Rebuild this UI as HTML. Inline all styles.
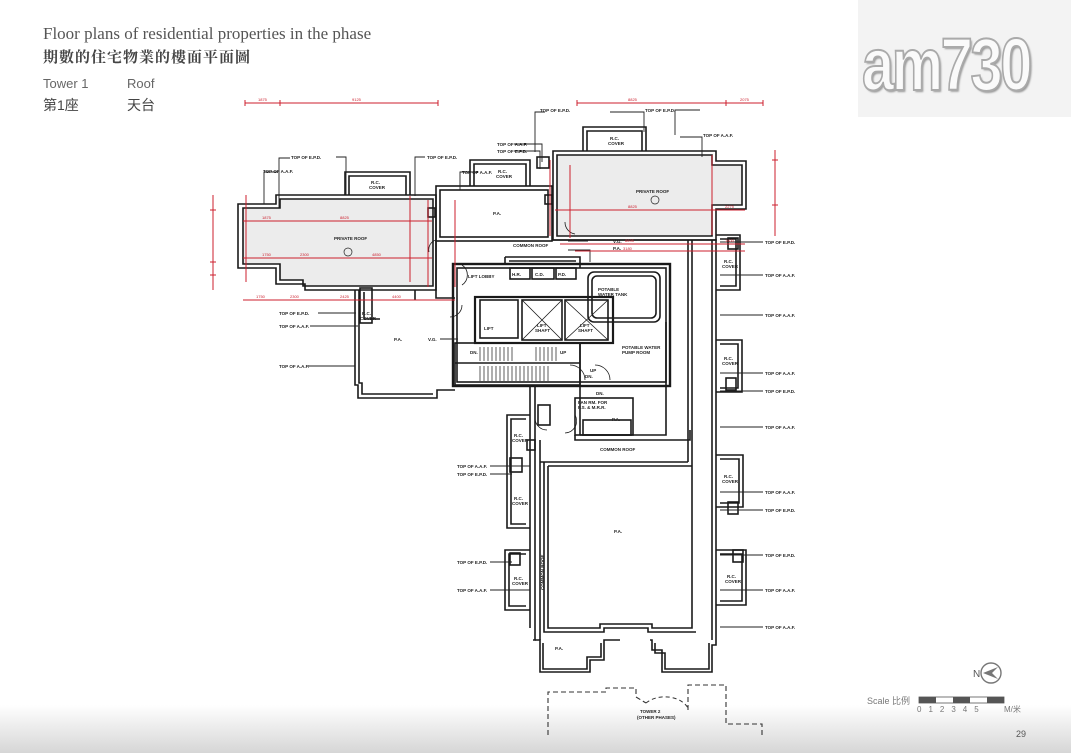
<!DOCTYPE html>
<html><head><meta charset="utf-8"><style>
html,body{margin:0;padding:0}
body{width:1071px;height:753px;position:relative;overflow:hidden;background:#fff;font-family:"Liberation Sans","Noto Sans CJK TC",sans-serif}
.t1{position:absolute;left:43px;top:24px;font-family:"Liberation Serif",serif;font-size:17px;color:#555}
.t2{position:absolute;left:43px;top:46px;font-family:"Liberation Serif","Noto Serif CJK SC",serif;font-size:15px;font-weight:bold;color:#444;letter-spacing:1px}
.s{position:absolute;font-size:13px;color:#666}
.logo{position:absolute;left:858px;top:0;width:213px;height:117px;background:#f3f3f3}
.logo span{position:absolute;left:4px;top:22px;font-size:74px;font-weight:bold;font-family:"Liberation Sans Narrow","Liberation Sans",sans-serif;color:#fafafa;letter-spacing:-3px;transform:scaleX(0.78);transform-origin:left;-webkit-text-stroke:2px #aaa;text-shadow:2px 2px 2px #999}
.grad{position:absolute;left:0;top:705px;width:1071px;height:48px;background:linear-gradient(#fff,#d6d6d6)}
</style></head><body>
<div class="grad"></div>
<div class="t1">Floor plans of residential properties in the phase</div>
<div class="t2">期數的住宅物業的樓面平面圖</div>
<div class="s" style="left:43px;top:76px">Tower 1</div>
<div class="s" style="left:127px;top:76px">Roof</div>
<div class="s" style="left:43px;top:95px;font-size:14px;color:#444">第1座</div>
<div class="s" style="left:127px;top:95px;font-size:14px;color:#444">天台</div>
<div class="logo"><span>am730</span></div>
<svg width="1071" height="753" style="position:absolute;left:0;top:0" font-family="Liberation Sans, sans-serif" font-weight="bold">
<g fill="#ececec" stroke="none">
<polygon points="243,208 280,208 280,199 433,199 433,286 303,286 303,280 280,280 280,264 243,264"/>
<polygon points="557,155 712,155 712,165 742,165 742,205 712,205 712,236 557,236"/>
</g>
<g fill="none" stroke="#1a1a1a" stroke-width="1.6">
<polygon points="238,204 276,204 276,195 436,195 436,290 305,290 305,284 276,284 276,268 238,268"/>
<polygon points="243,208 280,208 280,199 433,199 433,286 303,286 303,280 280,280 280,264 243,264"/>
<polyline points="345,195 345,172 410,172 410,195"/><polyline points="349,195 349,176 406,176 406,195"/>
<rect x="436" y="186" width="116" height="55"/><rect x="440" y="190" width="108" height="47"/>
<polyline points="470,186 470,160 530,160 530,186"/><polyline points="474,186 474,164 526,164 526,186"/>
<rect x="537" y="157" width="12" height="11"/>
<polygon points="553,151 716,151 716,161 746,161 746,209 716,209 716,240 553,240"/>
<polygon points="557,155 712,155 712,165 742,165 742,205 712,205 712,236 557,236"/>
<polyline points="583,151 583,127 646,127 646,151"/><polyline points="587,151 587,131 642,131 642,151"/>
<rect x="545" y="195" width="7" height="9"/><rect x="428" y="208" width="7" height="9"/>
<polyline points="436,241 436,298 455,298"/>
<polyline points="552,240 716,240 716,640"/>
<polyline points="712,240 712,640"/>
<polyline points="692,240 692,466"/><polyline points="688,240 688,462"/>
<polyline points="355,290 355,385 358,385 358,398 437,398 437,390 455,390"/>
<polyline points="359,290 359,383 362,383 362,394 433,394"/>
<polyline points="415,290 415,300"/>
<rect x="360" y="288" width="12" height="35"/><polyline points="364,292 364,319 380,319"/>
<rect x="453" y="264" width="217" height="122" stroke-width="2.4"/>
<rect x="457" y="268" width="209" height="114"/>
<polyline points="505,257 505,264"/><polyline points="505,257 580,257 580,268"/><polyline points="509,261 576,261"/>
<rect x="510" y="268" width="20" height="11"/><rect x="532" y="268" width="22" height="11"/><rect x="556" y="268" width="20" height="11"/>
<rect x="588" y="272" width="72" height="50" rx="6"/><rect x="592" y="276" width="64" height="42" rx="5"/>
<rect x="475" y="297" width="138" height="46" stroke-width="2.2"/>
<rect x="480" y="300" width="38" height="38"/><rect x="522" y="300" width="40" height="40"/><rect x="565" y="300" width="43" height="40"/>
<path d="M522 300L562 340M562 300L522 340M565 300L608 340M608 300L565 340" stroke-width="0.8"/>
<rect x="455" y="343" width="125" height="42"/><line x1="455" y1="363" x2="580" y2="363"/>
<path d="M480 347v14M484 347v14M488 347v14M492 347v14M496 347v14M500 347v14M504 347v14M508 347v14M512 347v14M536 347v14M540 347v14M544 347v14M548 347v14M552 347v14M556 347v14M480 366v15M484 366v15M488 366v15M492 366v15M496 366v15M500 366v15M504 366v15M508 366v15M512 366v15M516 366v15M520 366v15M524 366v15M528 366v15M532 366v15M536 366v15M540 366v15M544 366v15M548 366v15" stroke-width="0.7"/>
<polyline points="580,343 580,435"/><polyline points="666,322 666,435 580,435"/>
<rect x="575" y="398" width="58" height="37"/><rect x="583" y="420" width="48" height="15"/>
<polyline points="575,435 575,440 690,440 690,430"/>
<path d="M570 365a15 15 0 0 1 15 15M595 365a15 15 0 0 1 15 15M547 430a12 12 0 0 1 -12 -12" stroke-width="0.8"/>
<path d="M575 415a12 12 0 0 1 -10 18" stroke-width="0.8"/>
<path d="M462 265a12 12 0 0 1 0 20M429 252a10 10 0 0 1 7 -12M575 234a12 12 0 0 1 -10 -12M462 305a12 12 0 0 1 -12 12" stroke-width="0.8"/>
<rect x="538" y="405" width="12" height="20"/><rect x="527" y="440" width="8" height="10"/>
<polyline points="535,386 535,640 533,640"/><polyline points="530,386 530,628"/>
<polyline points="540,440 540,640"/>
<polyline points="548,466 692,466"/><polyline points="540,462 688,462"/>
<polyline points="548,466 548,628 600,628 600,624 652,624 652,628 692,628 692,466"/>
<polyline points="544,462 544,632 604,632 604,628 648,628 648,632 696,632"/>
<polyline points="535,640 540,640 540,672 590,672 590,660 604,660 604,640 620,640"/>
<polyline points="543,643 543,669 587,669 587,657 601,657 601,643"/>
<polyline points="650,640 652,640 652,650 662,650 662,672 712,672 712,645 716,645 716,640"/>
<polyline points="655,643 655,653 665,653 665,669 709,669 709,643"/>
<polyline points="530,415 507,415 507,528 530,528"/><polyline points="526,419 511,419 511,524 526,524"/>
<rect x="510" y="458" width="12" height="14"/>
<polyline points="530,550 505,550 505,610 530,610"/><polyline points="526,554 509,554 509,606 526,606"/>
<rect x="510" y="553" width="10" height="12"/>
<polyline points="716,235 740,235 740,290 716,290"/><polyline points="720,239 736,239 736,286 720,286"/><rect x="728" y="238" width="10" height="11"/>
<polyline points="716,340 742,340 742,392 716,392"/><polyline points="720,344 738,344 738,388 720,388"/><rect x="726" y="378" width="10" height="12"/>
<polyline points="716,455 743,455 743,507 716,507"/><polyline points="720,459 739,459 739,503 720,503"/><rect x="728" y="502" width="10" height="12"/>
<polyline points="716,550 746,550 746,605 716,605"/><polyline points="720,554 742,554 742,601 720,601"/><rect x="733" y="550" width="10" height="12"/>
</g>
<polyline points="548,735 548,692 606,692 606,688 636,688 636,697 646,703" fill="none" stroke="#333" stroke-width="1.1" stroke-dasharray="5,3"/>
<path d="M646 703a25 18 0 0 1 42 5" fill="none" stroke="#333" stroke-dasharray="4,3"/>
<polyline points="688,710 688,685 726,685 726,724 762,724 762,735" fill="none" stroke="#333" stroke-width="1.1" stroke-dasharray="5,3"/>
<g stroke="#222" stroke-width="0.9" fill="none">
<path d="M290 158h-11v50M336 157h10v38M425 157h-10v39M278 172h-14v32"/>
<path d="M514 144h28v18M514 151h26v18M478 172h-18v18M700 110h-25v25M545 112h-10v40"/>
<path d="M318 313h38M310 326h48M308 366h47M440 339h18M568 250h22v12M568 241h20"/>
<path d="M610 112h34v20M680 137h22v20"/>
<path d="M720 242h43M720 275h43M720 315h43M720 373h43M720 391h43M720 427h43M720 492h43M720 510h43M720 555h43M720 590h43M720 627h43"/>
<path d="M490 466h40M490 474h22M490 562h22M490 590h40"/>
</g>
<g font-size="4.5" fill="#222">
<text x="263" y="173">TOP OF A.A.F.</text><text x="291" y="159">TOP OF E.P.D.</text><text x="427" y="159">TOP OF E.P.D.</text>
<text x="497" y="146">TOP OF A.A.F.</text><text x="497" y="153">TOP OF E.P.D.</text><text x="462" y="174">TOP OF A.A.F.</text>
<text x="540" y="112">TOP OF E.P.D.</text><text x="645" y="112">TOP OF E.P.D.</text><text x="703" y="137">TOP OF A.A.F.</text>
<text x="279" y="315">TOP OF E.P.D.</text><text x="279" y="328">TOP OF A.A.F.</text><text x="279" y="368">TOP OF A.A.F.</text>
<text x="765" y="244">TOP OF E.P.D.</text><text x="765" y="277">TOP OF A.A.F.</text><text x="765" y="317">TOP OF A.A.F.</text>
<text x="765" y="375">TOP OF A.A.F.</text><text x="765" y="393">TOP OF E.P.D.</text><text x="765" y="429">TOP OF A.A.F.</text>
<text x="765" y="494">TOP OF A.A.F.</text><text x="765" y="512">TOP OF E.P.D.</text><text x="765" y="557">TOP OF E.P.D.</text>
<text x="765" y="592">TOP OF A.A.F.</text><text x="765" y="629">TOP OF A.A.F.</text>
<text x="457" y="468">TOP OF A.A.F.</text><text x="457" y="476">TOP OF E.P.D.</text><text x="457" y="564">TOP OF E.P.D.</text><text x="457" y="592">TOP OF A.A.F.</text>
<text x="371" y="184">R.C.</text><text x="369" y="189">COVER</text><text x="498" y="173">R.C.</text><text x="496" y="178">COVER</text>
<text x="610" y="140">R.C.</text><text x="608" y="145">COVER</text>
<text x="334" y="240">PRIVATE ROOF</text><text x="636" y="193">PRIVATE ROOF</text>
<text x="493" y="215">P.A.</text><text x="394" y="341">P.A.</text><text x="614" y="533">P.A.</text><text x="555" y="650">P.A.</text><text x="612" y="421">P.A.</text>
<text x="428" y="341">V.G.</text><text x="613" y="243">V.G.</text><text x="613" y="250">P.A.</text>
<text x="513" y="247">COMMON ROOF</text><text x="600" y="451">COMMON ROOF</text>
<text x="468" y="278">LIFT LOBBY</text><text x="512" y="276">H.R.</text><text x="535" y="276">C.D.</text><text x="558" y="276">P.D.</text>
<text x="598" y="291">POTABLE</text><text x="598" y="296">WATER TANK</text>
<text x="484" y="330">LIFT</text><text x="537" y="327">LIFT</text><text x="535" y="332">SHAFT</text><text x="580" y="327">LIFT</text><text x="578" y="332">SHAFT</text>
<text x="622" y="349">POTABLE WATER</text><text x="622" y="354">PUMP ROOM</text>
<text x="578" y="404">FAN RM. FOR</text><text x="578" y="409">P.S. &amp; M.R.R.</text>
<text x="470" y="354">DN.</text><text x="560" y="354">UP</text><text x="590" y="372">UP</text><text x="585" y="378">DN.</text><text x="596" y="395">DN.</text>
<text x="514" y="437">R.C.</text><text x="512" y="442">COVER</text><text x="514" y="500">R.C.</text><text x="512" y="505">COVER</text>
<text x="514" y="580">R.C.</text><text x="512" y="585">COVER</text>
<text x="362" y="315">R.C.</text><text x="360" y="320">COVER</text>
<text x="724" y="263">R.C.</text><text x="722" y="268">COVER</text><text x="724" y="360">R.C.</text><text x="722" y="365">COVER</text>
<text x="724" y="478">R.C.</text><text x="722" y="483">COVER</text><text x="727" y="578">R.C.</text><text x="725" y="583">COVER</text>
<text x="640" y="713">TOWER 2</text><text x="637" y="719">(OTHER PHASES)</text>
<text transform="translate(544,590) rotate(-90)">COMMON ROOF</text>
</g>
<circle cx="348" cy="252" r="4" fill="none" stroke="#222" stroke-width="0.7"/><circle cx="655" cy="200" r="4" fill="none" stroke="#222" stroke-width="0.7"/>
<g stroke="#cc1f2d" stroke-width="1" fill="none">
<path d="M245 103H438M245 100v6M280 100v6M438 100v6"/>
<path d="M577 103H763M577 100v6M726 100v6M763 100v6"/>
<path d="M213 195V290M210 210h6M210 262h6M210 275h6"/>
<path d="M243 221H432M243 258H432M243 300H455M555 210H745M560 244H745M575 251H745"/>
<path d="M246 195V282M410 196V282M428 200V287M455 200V287M550 160V236M570 165V238M712 155V235M775 150V236M772 160h6M772 205h6"/>
</g>
<g font-size="4" fill="#cc1f2d" font-weight="normal">
<text x="258" y="101">1875</text><text x="352" y="101">9125</text><text x="628" y="101">8825</text><text x="740" y="101">2075</text>
<text x="262" y="219">1875</text><text x="340" y="219">8825</text><text x="262" y="256">1750</text><text x="300" y="256">2300</text><text x="372" y="256">4850</text>
<text x="256" y="298">1750</text><text x="290" y="298">2300</text><text x="340" y="298">2425</text><text x="392" y="298">4400</text>
<text x="628" y="208">8825</text><text x="725" y="208">2275</text><text x="625" y="242">8695</text><text x="725" y="242">1400</text><text x="623" y="250">3180</text>
</g>
<g transform="translate(991,673)"><circle r="10" fill="none" stroke="#777" stroke-width="1.4"/><path d="M-8 0L7 -6L1 0L7 6Z" fill="#777"/></g>
<text x="973" y="677" font-size="10" fill="#555" font-weight="normal">N</text>
<text x="867" y="704" font-size="9" fill="#777" font-weight="normal">Scale 比例</text>
<rect x="919" y="697" width="85" height="6" fill="#fff" stroke="#555" stroke-width="0.8"/>
<rect x="919" y="697" width="17" height="6" fill="#555"/><rect x="953" y="697" width="17" height="6" fill="#555"/><rect x="987" y="697" width="17" height="6" fill="#555"/>
<text x="917" y="712" font-size="8" fill="#777" font-weight="normal" letter-spacing="7">012345</text>
<text x="1004" y="712" font-size="8" fill="#777" font-weight="normal">M/米</text>
<text x="1016" y="737" font-size="9" fill="#555" font-weight="normal">29</text>
</svg>
</body></html>
